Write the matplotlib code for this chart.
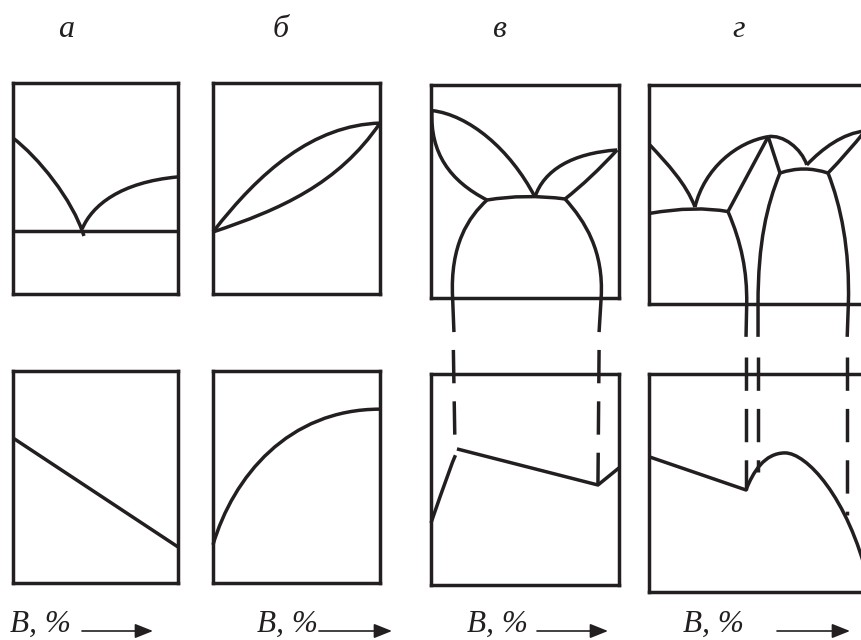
import matplotlib
matplotlib.use("Agg")
import matplotlib.pyplot as plt
from matplotlib.path import Path
from matplotlib.patches import PathPatch

plt.rcParams['lines.scale_dashes'] = False

INK = '#231f20'
LW = 2.5

# ---------------------------------------------------------------------------
# Captions
panel_letters = ['а', 'б', 'в', 'г']
axis_caption = 'B, %'

# ---------------------------------------------------------------------------
# Curves in panel units: x = content of B (0..100 %), y = 0..100 % of panel height
# (temperature in the upper row, property in the lower row).
# A curve is a start point followed by pieces:
#   1 point -> straight segment, 2 points -> quadratic, 3 points -> cubic Bezier.

# а — eutectic system without solubility, property linear
a_liquidus_left = [(0, 73.9), [(15, 65), (36, 45), (43, 27.5)]]
a_liquidus_right = [(42, 31), [(48, 42), (65, 53), (100, 55.5)]]
a_eutectic = [(0, 30), [(100, 30)]]
a_property = [(0, 68.4), [(100, 17.0)]]

# б — continuous solid solutions, property curved
b_liquidus = [(0, 29.4), [(28, 58), (60, 80), (100, 81)]]
b_solidus = [(0, 29.4), [(40, 40), (75, 52), (100, 81)]]
b_property = [(0, 18), [(12, 50), (45, 82), (100, 82)]]

# в — limited solid solutions
v_liquidus_left = [(0.5, 88), [(20, 86), (42, 70), (55.3, 47.4)]]
v_solidus_left = [(0.5, 88), [(-0.5, 68), (10, 55), (29.8, 46)]]
v_eutectic = [(29.8, 46), [(50, 49), (71.3, 46.5)]]
v_liquidus_right = [(55.3, 47.4), [(60, 60), (75, 68), (99, 69.5)]]
v_solidus_right = [(99, 69.5), [(85, 56), (71.3, 46.5)]]
v_solvus_left = [(29.8, 46), [(20, 38), (10, 25), (11.5, 0)], [(12.2, -16)]]
v_solvus_right = [(71.3, 46.5), [(82, 36), (92, 22), (90.5, 0)], [(89.4, -16)]]
v_property_left = [(0, 29.4), [(11, 58), (13, 61.5)]]
v_property_main = [(13.8, 64.5), [(88.8, 47.4)], [(100, 55.5)]]
# phase boundaries carried down to the property curve (lower-panel units)
v_guides = [((11.9, 111.4), (12.8, 63.0)),
            ((89.4, 111.4), (88.8, 47.4))]

# г — system with a chemical compound
g_liquidus_left = [(0.4, 72.6), [(8, 64), (16, 55), (19.9, 44.3)]]
g_eutectic_1 = [(0.4, 41.4), [(20, 45), (34.2, 42.2)]]
g_liquidus_rise = [(19.9, 44.3), [(24, 62), (38, 74), (51.6, 76.4)]]
g_liquidus_fall = [(51.6, 76.4), [(58, 77.5), (66, 71), (68.3, 63.5)]]
g_compound_left = [(34.2, 42.2), [(51.6, 76.4)]]
g_compound_right = [(51.6, 76.4), [(56.7, 59.8)]]
g_eutectic_2 = [(56.7, 59.8), [(67, 63.5), (77.5, 59.8)]]
g_lens_upper = [(68.3, 63.5), [(75, 71), (84, 78), (93.5, 79)]]
g_lens_lower = [(77.5, 59.8), [(86, 69), (93.5, 79)]]
g_solvus_1 = [(34.2, 42.2), [(40, 28), (42.5, 15), (42.3, 0)], [(42, -15)]]
g_solvus_2 = [(56.7, 59.8), [(51, 45), (47.2, 28), (47.2, 0)], [(47.2, -15)]]
g_solvus_3 = [(77.5, 59.8), [(83, 45), (87, 25), (86.3, 0)], [(85.8, -15)]]
g_property = [(0.4, 61.9), [(42, 46.8)],
              [(45, 55), (50, 63.8), (58.9, 63.8)],
              [(68, 63.8), (86, 44), (95, 5)]]
g_guides = [((42.0, 107.8), (42.0, 46.8)),
            ((47.2, 107.8), (47.2, 55.0)),
            ((85.8, 107.8), (85.8, 35.5))]

# ---------------------------------------------------------------------------
W, H = 861, 640
fig = plt.figure(figsize=(W / 100, H / 100), dpi=100)
fig.patch.set_facecolor('white')


def panel(left, top, right, bottom):
    ax = fig.add_axes([left / W, 1 - bottom / H, (right - left) / W, (bottom - top) / H])
    ax.set_xlim(0, 100)
    ax.set_ylim(0, 100)
    ax.set_xticks([])
    ax.set_yticks([])
    ax.patch.set_alpha(0)
    for s in ax.spines.values():
        s.set_linewidth(LW)
        s.set_color(INK)
    return ax


def draw(ax, curve):
    verts = [curve[0]]
    codes = [Path.MOVETO]
    kind = {1: Path.LINETO, 2: Path.CURVE3, 3: Path.CURVE4}
    for piece in curve[1:]:
        verts.extend(piece)
        codes.extend([kind[len(piece)]] * len(piece))
    ax.add_patch(PathPatch(Path(verts, codes), fill=False, edgecolor=INK,
                           linewidth=LW, capstyle='butt', joinstyle='round',
                           clip_on=False))


def guides(ax, lines):
    for (x0, y0), (x1, y1) in lines:
        ax.plot([x0, x1], [y0, y1], color=INK, lw=LW, clip_on=False,
                linestyle=(0, (24, 13)), solid_capstyle='butt',
                dash_capstyle='butt')


ax_a1 = panel(13, 83, 178, 294)
ax_a2 = panel(13, 371, 178, 583)
ax_b1 = panel(213, 83, 380, 294)
ax_b2 = panel(213, 371, 380, 583)
ax_v1 = panel(431, 85, 619, 298)
ax_v2 = panel(431, 374, 619, 585)
ax_g1 = panel(649, 85, 880, 304)
ax_g2 = panel(649, 374, 880, 592)

for c in (a_liquidus_left, a_liquidus_right, a_eutectic):
    draw(ax_a1, c)
draw(ax_a2, a_property)

for c in (b_liquidus, b_solidus):
    draw(ax_b1, c)
draw(ax_b2, b_property)

for c in (v_liquidus_left, v_solidus_left, v_eutectic, v_liquidus_right,
          v_solidus_right, v_solvus_left, v_solvus_right):
    draw(ax_v1, c)
for c in (v_property_left, v_property_main):
    draw(ax_v2, c)
guides(ax_v2, v_guides)

for c in (g_liquidus_left, g_eutectic_1, g_liquidus_rise, g_liquidus_fall,
          g_compound_left, g_compound_right, g_eutectic_2, g_lens_upper,
          g_lens_lower, g_solvus_1, g_solvus_2, g_solvus_3):
    draw(ax_g1, c)
draw(ax_g2, g_property)
guides(ax_g2, g_guides)

# ---------------------------------------------------------------------------
# Captions layer in pixel units
ov = fig.add_axes([0, 0, 1, 1])
ov.set_xlim(0, W)
ov.set_ylim(H, 0)
ov.axis('off')
ov.patch.set_alpha(0)

font = dict(family='Liberation Serif', style='italic', color=INK)
letter_x = [66, 281, 499, 739]
for x, s in zip(letter_x, panel_letters):
    ov.text(x, 37, s, ha='center', va='baseline', fontsize=23, **font)

caption_x = [10, 257, 467, 683]
arrow_spans = [(82, 153), (319, 392), (537, 608), (777, 850)]
for x, (x0, x1) in zip(caption_x, arrow_spans):
    ov.text(x, 632, axis_caption, ha='left', va='baseline', fontsize=22.5, **font)
    ov.annotate('', xy=(x1, 631), xytext=(x0, 631),
                arrowprops=dict(arrowstyle='-|>,head_length=0.55,head_width=0.22',
                                mutation_scale=20, lw=1.2, color=INK,
                                shrinkA=0, shrinkB=0))

fig.savefig('out.png', dpi=100)
